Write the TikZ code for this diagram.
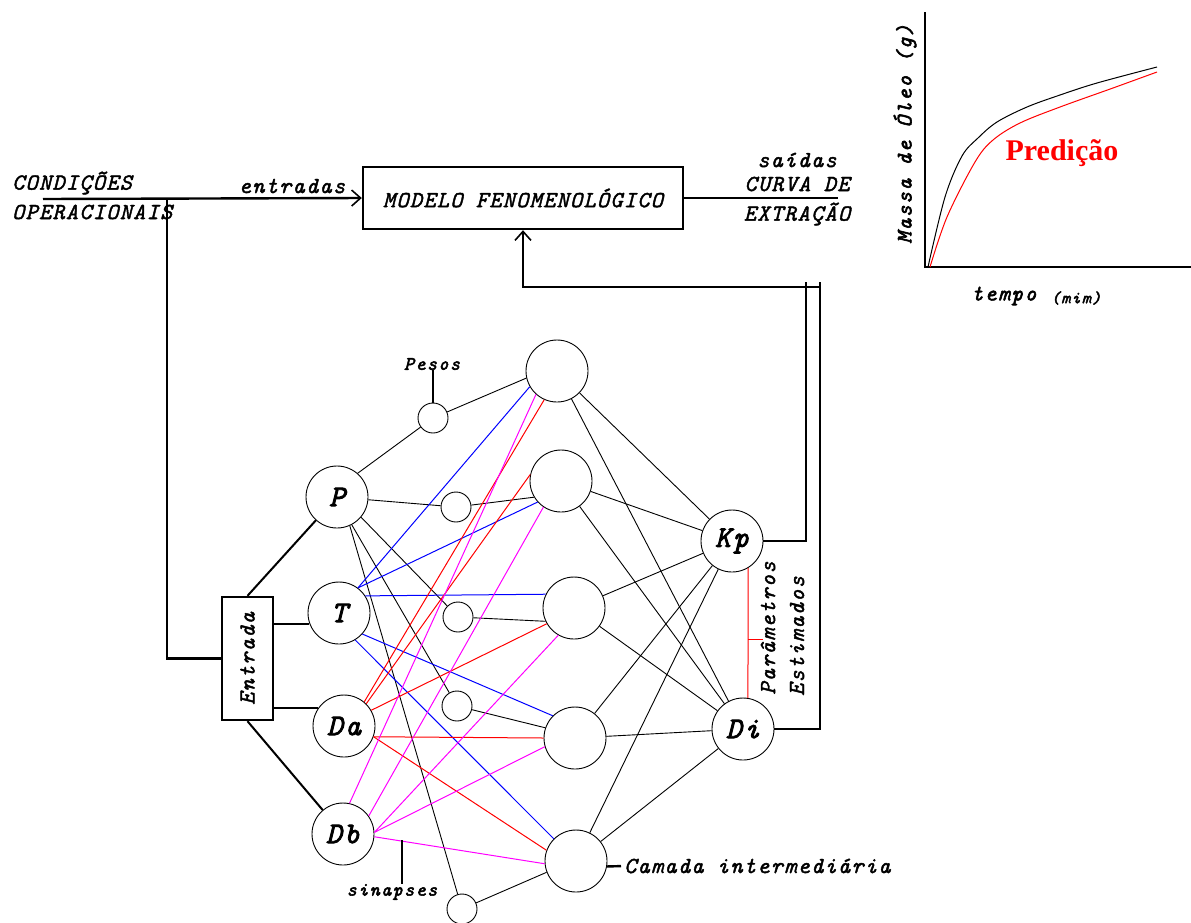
\documentclass[tikz,border=0pt]{standalone}
\usepackage{fontspec}
\setmainfont{Liberation Serif}
\newfontfamily\twi[LetterSpace=6,FakeBold=1.8]{lmmono10-italic.otf}
\newfontfamily\twbi[LetterSpace=8,FakeBold=2.8]{lmmono10-italic.otf}
\usetikzlibrary{arrows.meta}
\definecolor{synblue}{RGB}{0,0,255}
\definecolor{synred}{RGB}{255,0,0}
\definecolor{synmag}{RGB}{255,0,255}
\tikzset{
  txt/.style={font=\twi\fontsize{23}{26}\selectfont, inner sep=0pt},
  txtb/.style={font=\twbi\fontsize{22}{25}\selectfont, inner sep=0pt},
  smallb/.style={font=\twbi\fontsize{19}{22}\selectfont, inner sep=0pt},
  neuron/.style={circle, draw, line width=0.9pt, minimum size=62pt, inner sep=0pt,
    font=\twbi\fontsize{30}{32}\selectfont},
  wcirc/.style={circle, draw, line width=0.9pt, minimum size=30pt, inner sep=0pt},
  link/.style={line width=0.9pt},
  mid/.style={line width=2pt},
  heavy/.style={line width=2.4pt},
  blueln/.style={line width=1pt, synblue},
  redln/.style={line width=1pt, synred},
  magln/.style={line width=1pt, synmag},
  barb/.style={-{Straight Barb[length=9pt,width=16pt,line width=1.6pt]}},
}
\begin{document}
\begin{tikzpicture}[x=1pt,y=-1pt]
\useasboundingbox (0,0) rectangle (1191,922);

% ---------- upper block diagram ----------
\node[txt, draw, line width=2.4pt, minimum width=320pt, minimum height=62pt] (model) at (523,198) {MODELO FENOMENOLÓGICO};
\node[txt, anchor=west] (cond) at (12,183) {CONDIÇÕES};
\node[txt, anchor=west] (oper) at (12,212) {OPERACIONAIS};
\node[txt] (ent) at (292,186) {entradas};
\node[txt] (sai) at (797,160) {saídas};
\node[txt] (cur) at (797,184) {CURVA DE};
\node[txt] (ext) at (797,214) {EXTRAÇÃO};

\coordinate (src) at (43,199);
\coordinate (jn) at (167,199);
\coordinate (outend) at (838,198);
\draw[heavy, barb] (src) -- (model.west);
\draw[heavy] (model.east) -- (outend);

% ---------- neurons ----------
\node[neuron] (P)  at (337,497) {P};
\node[neuron] (T)  at (339,613) {T};
\node[neuron] (Da) at (344,726) {Da};
\node[neuron] (Db) at (343,834) {Db};
\node[neuron] (H1) at (557,371) {};
\node[neuron] (H2) at (561,481) {};
\node[neuron] (H3) at (574,608) {};
\node[neuron] (H4) at (575,738) {};
\node[neuron] (H5) at (576,861) {};
\node[neuron] (Kp) at (732,541) {Kp};
\node[neuron] (Di) at (743,729) {Di};

\node[wcirc] (W1) at (433,418) {};
\node[wcirc] (W2) at (456,507) {};
\node[wcirc] (W3) at (458,617) {};
\node[wcirc] (W4) at (457,706) {};
\node[wcirc] (W5) at (462,909) {};

% input box
\node[draw, line width=2.4pt, minimum width=51pt, minimum height=123pt, inner sep=0pt] (box) at (247.5,658.5) {};
\node[txt, rotate=90] (entlbl) at (box.center) {Entrada};

\draw[heavy] (jn) |- (box.west);
\draw[mid] (box.north) -- (P);
\draw[mid] (box.east |- T.200) -- (T.200);
\draw[mid] (box.east |- Da.145) -- (Da.145);
\draw[mid] (box.south) -- (Db);

% weighted paths from P
\draw[link] (P.49) -- (W1);
\draw[link] (W1) -- (H1.193);
\draw[link] (P.-5) -- (W2);
\draw[link] (W2) -- (H2.211);
\draw[link] (P.-40) -- (W3);
\draw[link] (W3) -- (H3.205);
\draw[link] (P.-62) -- (W4);
\draw[link] (W4) -- (H4.161);
\draw[link] (P.-66) -- (W5);
\draw[link] (W5) -- (H5.201);

% synapses from T
\draw[blueln] (T.53) -- (H1.210);
\draw[blueln] (T.53) -- (H2.222);
\draw[blueln] (T.33) -- (H3.154);
\draw[blueln] (T.-42) -- (H4.135);
\draw[blueln] (T.-59) -- (H5.135);

% synapses from Da
\draw[redln] (Da.50) -- (H1.246);
\draw[redln] (Da.45) -- (H2.168);
\draw[redln] (Da.30) -- (H3.210);
\draw[redln] (Da.-20) -- (H4.180);
\draw[redln] (Da.-20) -- (H5.160);

% synapses from Db
\draw[magln] (Db.78) -- (H1.228);
\draw[magln] (Db.35) -- (H2.236);
\draw[magln] (Db.3) -- (H3.240);
\draw[magln] (Db.3) -- (H4.196);
\draw[magln] (Db.-5) -- (H5.185);

% hidden layer to outputs
\foreach \h in {H1,H2,H3,H4,H5} {
  \draw[link] (\h) -- (Kp);
  \draw[link] (\h) -- (Di);
}

% feedback of the estimated parameters
\coordinate (f1) at (806,282);
\coordinate (f2) at (820,282);
\coordinate (fb) at (820,287);
\draw[heavy] (Kp.east) -| (f1);
\draw[heavy] (Di.east) -| (f2);
\draw[heavy, barb] (fb) -| (model.south);

% bracket and labels
\draw[redln] (Kp.-59) -- (Di.81);
\coordinate (brk) at (748,639);
\draw[redln] (brk) -- ++(15,0);
\node[txt, rotate=90] (par) at (768,628) {Parâmetros};
\node[txt, rotate=90] (est) at (797,636) {Estimados};

\node[smallb] (pes) at (432,364) {Pesos};
\draw[mid] (W1) -- (W1 |- pes.south);
\node[smallb] (sin) at (392,892) {sinapses};
\coordinate (sintop) at (402,840);
\draw[mid] (sintop) -- (sintop |- sin.north);
\node[txt, anchor=west] (cam) at (624,866) {Camada intermediária};
\draw[heavy, shorten >=3pt] (H5.-10) -- (cam.west);

% ---------- extraction curve ----------
\coordinate (ytop) at (925,12);
\coordinate (orig) at (925,267);
\coordinate (xend) at (1191,267);
\draw[heavy] (ytop) -- (orig) -- (xend);
\draw[line width=1pt] plot[smooth, tension=0.55] coordinates {(928,267) (945,197) (962,156) (978,138) (997,122) (1027,107) (1060,95) (1097,83) (1157,67)};
\draw[line width=1pt, synred] plot[smooth, tension=0.55] coordinates {(930,267) (947,217) (975,162) (993,140) (1020,123) (1060,107) (1113,88) (1157,72)};
\node[font=\bfseries\fontsize{30}{32}\selectfont, text=synred, inner sep=0pt] (pred) at (1062,153) {Predição};
\node[txtb, rotate=90] (massa) at (905,134) {Massa de Óleo (g)};
\node[txtb] (tempo) at (1004,296) {tempo};
\node[font=\twbi\fontsize{17}{19}\selectfont, inner sep=0pt] (mim) at (1076,298) {(mim)};
\end{tikzpicture}
\end{document}
